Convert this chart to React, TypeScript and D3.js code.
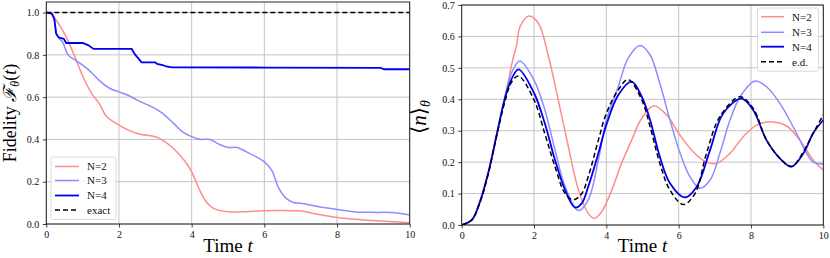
import * as d3 from 'd3';
import { useRef, useEffect } from 'react';

type Pt = [number, number];

// Fidelity panel (left)
const fidN2: Pt[] = [
    [0, 1.0], [0.15, 0.995], [0.25, 0.97], [0.5, 0.9], [0.75, 0.806], [1.0, 0.7],
    [1.25, 0.617], [1.45, 0.572], [1.55, 0.54], [1.65, 0.51], [2.0, 0.468], [2.5, 0.428],
    [3.0, 0.413], [3.2, 0.397], [3.5, 0.357], [3.8, 0.3], [4.0, 0.247], [4.2, 0.168],
    [4.4, 0.105], [4.6, 0.074], [5.0, 0.058], [5.5, 0.058], [6.0, 0.063], [7.0, 0.061],
    [7.5, 0.045], [8.0, 0.031], [9.0, 0.016], [10, 0.006],
];
const fidN3: Pt[] = [
    [0, 1.0], [0.15, 0.995], [0.22, 0.97], [0.3, 0.89], [0.45, 0.86], [0.6, 0.8],
    [0.8, 0.775], [1.0, 0.751], [1.2, 0.723], [1.5, 0.672], [1.75, 0.641], [2.0, 0.625],
    [2.25, 0.609], [2.5, 0.586], [3.0, 0.546], [3.2, 0.523], [3.5, 0.476], [3.75, 0.436],
    [4.0, 0.413], [4.25, 0.4], [4.5, 0.4], [4.75, 0.378], [5.0, 0.362], [5.25, 0.362],
    [5.5, 0.342], [6.0, 0.294], [6.2, 0.255], [6.4, 0.168], [6.6, 0.121], [6.8, 0.102],
    [7.0, 0.098], [7.5, 0.082], [8.0, 0.069], [8.5, 0.057], [9.0, 0.055], [9.5, 0.054],
    [10, 0.043],
];
const fidN4: Pt[] = [
    [0, 1.0], [0.15, 0.995], [0.22, 0.97], [0.27, 0.9], [0.35, 0.882], [0.48, 0.876],
    [0.55, 0.856], [1.0, 0.856], [1.15, 0.846], [1.3, 0.828], [2.35, 0.828], [2.45, 0.8],
    [2.55, 0.78], [2.62, 0.765], [3.0, 0.764], [3.05, 0.757], [3.2, 0.752], [3.3, 0.745],
    [3.45, 0.741], [6.0, 0.74], [9.2, 0.738], [9.3, 0.732], [10, 0.732],
];
const fidExact: Pt[] = [[0, 1.0], [10, 1.0]];

// occupation panel (right)
const occN2: Pt[] = [
    [0, 0], [0.28, 0.016], [0.5, 0.075], [0.74, 0.17], [0.97, 0.29], [1.24, 0.43],
    [1.4, 0.52], [1.52, 0.573], [1.61, 0.63], [1.86, 0.665], [2.12, 0.642], [2.4, 0.536],
    [2.67, 0.398], [2.95, 0.249], [3.23, 0.111], [3.5, 0.037], [3.67, 0.021], [3.87, 0.042],
    [4.15, 0.111], [4.42, 0.196], [4.7, 0.27], [4.95, 0.334], [5.3, 0.379], [5.67, 0.35],
    [6.0, 0.292], [6.4, 0.233], [6.77, 0.2], [7.05, 0.196], [7.42, 0.228], [7.79, 0.281],
    [8.16, 0.318], [8.62, 0.328], [8.99, 0.315], [9.35, 0.27], [9.72, 0.207], [10, 0.175],
];
const occN3: Pt[] = [
    [0, 0], [0.28, 0.016], [0.5, 0.075], [0.74, 0.17], [0.97, 0.29], [1.2, 0.41],
    [1.4, 0.49], [1.61, 0.522], [2.0, 0.461], [2.3, 0.366], [2.58, 0.239], [2.86, 0.122],
    [3.23, 0.046], [3.5, 0.08], [3.78, 0.207], [4.0, 0.334], [4.33, 0.44], [4.6, 0.53],
    [4.93, 0.571], [5.21, 0.541], [5.48, 0.45], [5.76, 0.334], [6.04, 0.228], [6.31, 0.154],
    [6.59, 0.117], [6.87, 0.143], [7.14, 0.228], [7.42, 0.334], [7.7, 0.408], [8.11, 0.458],
    [8.43, 0.44], [8.8, 0.387], [8.99, 0.35], [9.26, 0.292], [9.54, 0.228], [9.72, 0.2],
    [10, 0.194],
];
const occN4: Pt[] = [
    [0, 0], [0.28, 0.016], [0.5, 0.072], [0.74, 0.168], [0.97, 0.288], [1.2, 0.405],
    [1.38, 0.465], [1.57, 0.495], [2.0, 0.42], [2.3, 0.323], [2.58, 0.207], [2.86, 0.111],
    [3.13, 0.056], [3.32, 0.069], [3.5, 0.122], [3.78, 0.228], [4.0, 0.318], [4.33, 0.414],
    [4.7, 0.456], [4.98, 0.408], [5.21, 0.334], [5.48, 0.217], [5.76, 0.133], [6.17, 0.088],
    [6.5, 0.122], [6.87, 0.239], [7.23, 0.355], [7.74, 0.402], [8.06, 0.366], [8.43, 0.27],
    [8.8, 0.212], [9.12, 0.186], [9.45, 0.228], [9.72, 0.292], [10, 0.334],
];
const occExact: Pt[] = [
    [0, 0], [0.28, 0.016], [0.5, 0.07], [0.74, 0.165], [0.97, 0.285], [1.2, 0.395],
    [1.38, 0.455], [1.57, 0.474], [2.0, 0.398], [2.3, 0.29], [2.58, 0.186], [2.86, 0.1],
    [3.09, 0.08], [3.32, 0.1], [3.5, 0.154], [3.78, 0.27], [4.0, 0.355], [4.33, 0.43],
    [4.6, 0.463], [4.98, 0.398], [5.21, 0.313], [5.48, 0.196], [5.76, 0.111], [6.13, 0.065],
    [6.45, 0.1], [6.77, 0.228], [7.14, 0.345], [7.7, 0.408], [8.06, 0.371], [8.43, 0.27],
    [8.8, 0.212], [9.12, 0.186], [9.45, 0.233], [9.72, 0.292], [10, 0.35],
];

const xTicks = [0, 2, 4, 6, 8, 10];
const fidTicks = [0.0, 0.2, 0.4, 0.6, 0.8, 1.0];
const occTicks = [0.0, 0.1, 0.2, 0.3, 0.4, 0.5, 0.6, 0.7];
const fidLabels = ['N=2', 'N=3', 'N=4', 'exact'];
const occLabels = ['N=2', 'N=3', 'N=4', 'e.d.'];

const styles = [
    { color: '#ff8c8c', width: 1.5, dash: null },
    { color: '#8c8cff', width: 1.5, dash: null },
    { color: '#0000f0', width: 1.8, dash: null },
    { color: '#000000', width: 1.5, dash: '5,3' },
];

const FONT = '"Liberation Serif", "DejaVu Serif", serif';

export default function App() {
    const svgRef = useRef<SVGSVGElement>(null);

    useEffect(() => {
        if (!svgRef.current) return;
        const svg = d3.select(svgRef.current);
        svg.selectAll('*').remove();

        const panel = (
            xr: [number, number], yr: [number, number], ydom: [number, number],
            yTicks: number[], series: Pt[][], smooth: boolean[],
        ) => {
            const x = d3.scaleLinear().domain([0, 10]).range(xr);
            const y = d3.scaleLinear().domain(ydom).range(yr);
            const g = svg.append('g');

            // grid
            g.selectAll('line.gx').data(xTicks).enter().append('line')
                .attr('x1', d => x(d)).attr('x2', d => x(d))
                .attr('y1', yr[0]).attr('y2', yr[1])
                .attr('stroke', '#c4c4c4').attr('stroke-width', 1);
            g.selectAll('line.gy').data(yTicks).enter().append('line')
                .attr('x1', xr[0]).attr('x2', xr[1])
                .attr('y1', d => y(d)).attr('y2', d => y(d))
                .attr('stroke', '#c4c4c4').attr('stroke-width', 1);

            const clipId = 'clip' + Math.round(xr[0]);
            g.append('clipPath').attr('id', clipId).append('rect')
                .attr('x', xr[0]).attr('y', yr[1]).attr('width', xr[1] - xr[0]).attr('height', yr[0] - yr[1]);

            series.forEach((s, i) => {
                const line = d3.line<Pt>().x(d => x(d[0])).y(d => y(d[1]))
                    .curve(smooth[i] ? d3.curveCatmullRom.alpha(0.5) : d3.curveLinear);
                const st = styles[i];
                g.append('path').attr('d', line(s) || '')
                    .attr('fill', 'none').attr('stroke', st.color)
                    .attr('stroke-width', st.width)
                    .attr('stroke-dasharray', st.dash)
                    .attr('clip-path', `url(#${clipId})`);
            });

            // axes
            const ax = g.append('g').attr('transform', `translate(0,${yr[0]})`)
                .call(d3.axisBottom(x).tickValues(xTicks).tickSize(3.5).tickPadding(3.5).tickFormat(d3.format('d')));
            const ay = g.append('g').attr('transform', `translate(${xr[0]},0)`)
                .call(d3.axisLeft(y).tickValues(yTicks).tickSize(3.5).tickPadding(3.5).tickFormat(d3.format('.1f')));
            [ax, ay].forEach(a => {
                a.select('.domain').remove();
                a.selectAll('text').attr('font-family', FONT).attr('font-size', 10).attr('fill', '#111');
                a.selectAll('line').attr('stroke', '#111').attr('stroke-width', 0.8);
            });
            g.append('rect').attr('x', xr[0]).attr('y', yr[1])
                .attr('width', xr[1] - xr[0]).attr('height', yr[0] - yr[1])
                .attr('fill', 'none').attr('stroke', '#111').attr('stroke-width', 0.9);

            g.append('text').attr('x', (xr[0] + xr[1]) / 2).attr('y', 252)
                .attr('text-anchor', 'middle').attr('font-family', FONT).attr('font-size', 19)
                .text('Time ')
                .append('tspan').attr('font-style', 'italic').text('t');
            return g;
        };

        panel([46.3, 409.7], [224, 2], [0, 1.05], fidTicks,
            [fidN2, fidN3, fidN4, fidExact], [true, true, false, false]);
        panel([461.7, 823.3], [225, 5], [0, 0.7], occTicks,
            [occN2, occN3, occN4, occExact], [true, true, true, true]);

        // y labels
        const yl = svg.append('text').attr('transform', 'translate(16,113) rotate(-90)')
            .attr('text-anchor', 'middle').attr('font-family', FONT).attr('font-size', 18);
        yl.append('tspan').text('Fidelity ');
        yl.append('tspan').attr('font-style', 'italic').text('ℱ');
        yl.append('tspan').attr('font-style', 'italic').attr('font-size', 12).attr('dy', 3).text('θ');
        yl.append('tspan').attr('dy', -3).text('(');
        yl.append('tspan').attr('font-style', 'italic').text('t');
        yl.append('tspan').text(')');

        const yr = svg.append('text').attr('transform', 'translate(426,117) rotate(-90)')
            .attr('text-anchor', 'middle').attr('font-family', FONT).attr('font-size', 21);
        yr.append('tspan').text('⟨');
        yr.append('tspan').attr('font-style', 'italic').text('n');
        yr.append('tspan').text('⟩');
        yr.append('tspan').attr('font-style', 'italic').attr('font-size', 14).attr('dy', 4).text('θ');

        // legends
        const legend = (x0: number, y0: number, w: number, rows: number[], labels: string[], lx: [number, number], tx: number) => {
            const g = svg.append('g');
            g.append('rect').attr('x', x0).attr('y', y0).attr('width', w)
                .attr('height', rows[rows.length - 1] - y0 + 9.5)
                .attr('rx', 2).attr('fill', 'white').attr('fill-opacity', 0.85)
                .attr('stroke', '#d0d0d0').attr('stroke-width', 0.8);
            labels.forEach((lab, i) => {
                const st = styles[i];
                g.append('line').attr('x1', lx[0]).attr('x2', lx[1])
                    .attr('y1', rows[i]).attr('y2', rows[i])
                    .attr('stroke', st.color).attr('stroke-width', st.width)
                    .attr('stroke-dasharray', st.dash);
                g.append('text').attr('x', tx).attr('y', rows[i] + 3.8)
                    .attr('font-family', FONT).attr('font-size', 11).attr('fill', '#111').text(lab);
            });
        };
        legend(51, 157, 65, [166.5, 180.5, 195.5, 210], fidLabels, [55, 79], 87);
        legend(757.5, 8, 61, [16.7, 32.3, 46.7, 61.7], occLabels, [761, 784], 792);
    }, []);

    return (
        <svg ref={svgRef} width={830} height={258}
            style={{ position: 'absolute', left: 0, top: 0, background: 'white' }} />
    );
}
